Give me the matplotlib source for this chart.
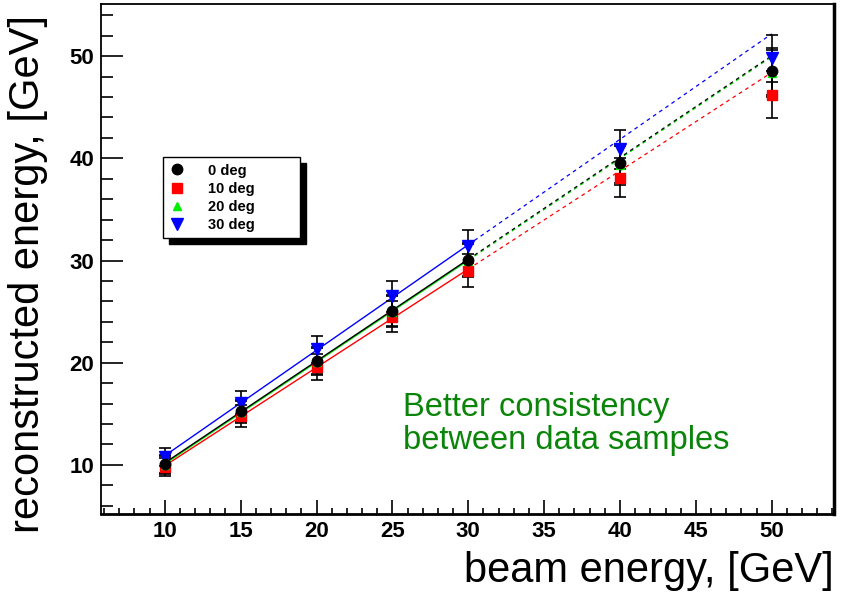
#!/usr/bin/env python3
import numpy as np
import matplotlib
matplotlib.use("Agg")
import matplotlib.pyplot as plt
from matplotlib.ticker import MultipleLocator

# beam energies and reconstructed energies per angle
beam = [10, 15, 20, 25, 30, 40, 50]
e_0deg = [10.1, 15.3, 20.2, 25.1, 30.1, 39.5, 48.5]
e_10deg = [9.8, 14.8, 19.6, 24.5, 29.0, 38.1, 46.2]
e_20deg = [10.0, 15.2, 20.1, 25.0, 30.0, 39.3, 48.3]
e_30deg = [10.8, 16.1, 21.3, 26.5, 31.4, 40.9, 49.8]
errors = [0.9, 1.1, 1.3, 1.5, 1.6, 1.9, 2.3]

labels = ["0 deg", "10 deg", "20 deg", "30 deg"]
colors = ["black", "#ff0000", "#00ee00", "#0000ff"]
markers = ["o", "s", "^", "v"]
msizes = [7.5, 7.5, 6, 8]
fit_max = 30  # fit range 10-30 GeV, extrapolated (dashed) up to 50

plt.rcParams['font.family'] = ['Liberation Sans', 'DejaVu Sans']

fig = plt.figure(figsize=(8.49, 5.96), dpi=100)
ax = fig.add_axes([0.119, 0.1376, 0.8633, 0.8557])

series = [e_0deg, e_10deg, e_20deg, e_30deg]
order = [1, 3, 2, 0]  # draw black last so it sits on top
handles = {}
x = np.array(beam, dtype=float)
for i in order:
    y = np.array(series[i])
    sel = x <= fit_max
    k, b = np.polyfit(x[sel], y[sel], 1)
    xs = np.array([10, fit_max])
    xd = np.array([fit_max, 50])
    ax.plot(xs, k * xs + b, color=colors[i], lw=1.0, zorder=2)
    ax.plot(xd, k * xd + b, color=colors[i], lw=0.9, ls=(0, (3, 3)), zorder=2)
    ax.errorbar(x, y, yerr=errors, fmt="none", ecolor="black", elinewidth=1.2,
                capsize=4, capthick=1.2, zorder=3)
    h, = ax.plot(x, y, ls="none", marker=markers[i], color=colors[i],
                 markersize=msizes[i], zorder=4 + order.index(i) * 0.1)
    handles[i] = h

ax.set_xlim(5.8, 54.1)
ax.set_ylim(5.2, 55.1)
ax.xaxis.set_major_locator(MultipleLocator(5))
ax.xaxis.set_minor_locator(MultipleLocator(1))
ax.yaxis.set_major_locator(MultipleLocator(10))
ax.yaxis.set_minor_locator(MultipleLocator(2))
ax.tick_params(axis="x", which="major", direction="in", length=10, width=1.2,
               labelsize=16, pad=5)
ax.tick_params(axis="x", which="minor", direction="in", length=4.5, width=1.2)
ax.tick_params(axis="y", which="major", direction="in", length=16, width=1.2,
               labelsize=16, pad=5)
ax.tick_params(axis="y", which="minor", direction="in", length=8.5, width=1.2)
for lab in ax.get_xticklabels() + ax.get_yticklabels():
    lab.set_fontweight("bold")

for s in ["left", "top"]:
    ax.spines[s].set_linewidth(1.3)
ax.spines["bottom"].set_linewidth(2)
ax.spines["right"].set_linewidth(2.5)

ax.set_ylabel("reconstructed energy, [GeV]", fontsize=30, loc="top")
ax.yaxis.set_label_coords(-0.072, 0.978)
ax.set_xlabel("beam energy, [GeV]", fontsize=30, loc="right")
ax.xaxis.set_label_coords(1.0, -0.072)

leg = ax.legend([handles[i] for i in range(4)], labels, loc="upper left",
                bbox_to_anchor=(0.085, 0.535, 0.187, 0.165), mode="expand",
                borderaxespad=0, prop={"weight": "bold", "size": 10.5},
                handlelength=1.0, handletextpad=1.6, labelspacing=0.28,
                borderpad=0.45, fancybox=False, framealpha=1,
                edgecolor="black",
                shadow={"ox": 4, "oy": -4, "color": "black", "alpha": 1})
leg.get_frame().set_linewidth(1.0)

ax.text(0.412, 0.24, "Better consistency\nbetween data samples",
        transform=ax.transAxes, color="#0a850a", fontsize=23.5,
        ha="left", va="top", linespacing=1.12)

fig.savefig("out.png", dpi=100)
